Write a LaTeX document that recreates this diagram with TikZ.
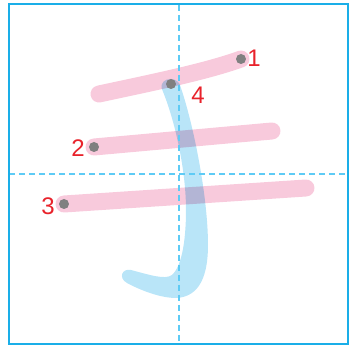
\documentclass[tikz,border=0pt]{standalone}
\usepackage{fontspec}
\setmainfont{Liberation Sans}
\usetikzlibrary{arrows.meta}

\begin{document}
\begin{tikzpicture}[x=1pt, y=-1pt]

\definecolor{framecolor}{RGB}{26, 174, 232}
\definecolor{guidecolor}{RGB}{94, 203, 245}
\definecolor{pinkstroke}{RGB}{248, 202, 220}
\definecolor{bluestroke}{RGB}{185, 229, 248}
\definecolor{dotcolor}{RGB}{128, 128, 128}
\definecolor{numcolor}{RGB}{232, 34, 43}

\tikzset{
  pinkline/.style={pinkstroke, line width=17pt, line cap=round},
  startdot/.style={circle, fill=dotcolor, inner sep=0pt, minimum size=10pt},
  numlabel/.style={numcolor, font=\fontsize{24}{24}\selectfont, inner sep=0pt}
}

\useasboundingbox (0, 0) rectangle (349, 347);

% horizontal strokes
\draw[pinkline] (241, 59) .. controls (205, 72) and (150, 83) .. (99, 94);
\draw[pinkline] (94, 147) -- (272, 131);
\draw[pinkline] (64, 204) -- (306, 188);

% vertical hook
\begin{scope}[blend mode=multiply]
\fill[bluestroke] (161.5, 88) .. controls (160, 77) and (179, 75) .. (181, 88)
  .. controls (195, 130) and (208, 200) .. (208, 245)
  .. controls (208, 275) and (200, 297) .. (176, 298)
  .. controls (160, 298) and (140, 290) .. (127, 283)
  .. controls (118, 278) and (122, 268) .. (131, 270)
  .. controls (150, 275) and (165, 280) .. (172, 275)
  .. controls (183, 265) and (186, 235) .. (186, 210)
  .. controls (186, 170) and (175, 120) .. (161.5, 88) -- cycle;
\end{scope}

% guides and frame
\draw[guidecolor, line width=1.5pt, dash pattern=on 6pt off 4pt] (9, 174) -- (348, 174);
\draw[guidecolor, line width=1.5pt, dash pattern=on 6pt off 4pt] (179, 5) -- (179, 344);
\draw[framecolor, line width=2pt] (9, 4.5) rectangle (348, 344);

% start points
\node[startdot] (dot1) at (241, 59) {};
\node[startdot] (dot2) at (94, 147) {};
\node[startdot] (dot3) at (64, 204) {};
\node[startdot] (dot4) at (171, 84) {};

\node[numlabel] (num1) at (254, 58) {1};
\node[numlabel] (num2) at (78, 148) {2};
\node[numlabel] (num3) at (48, 206) {3};
\node[numlabel] (num4) at (198, 95) {4};

\end{tikzpicture}
\end{document}
